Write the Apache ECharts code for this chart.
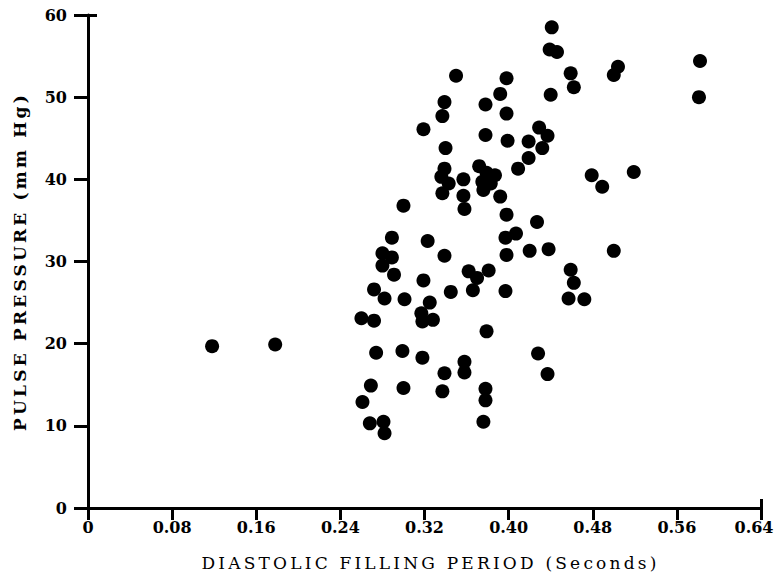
<!DOCTYPE html>
<html>
<head>
<meta charset="utf-8">
<script src="https://cdn.jsdelivr.net/npm/echarts@6/dist/echarts.min.js"></script>
<style>
  html, body { margin: 0; padding: 0; background: #fff; }
  #chart { width: 775px; height: 576px; }
  /* spaced-out lettering for the two axis titles (17px text only) */
  #chart svg text[style*="17px"] { letter-spacing: 3.2px; }
</style>
</head>
<body>
<div id="chart"></div>
<script>
// Diastolic filling period (s) for each observation
const fillingPeriod = [
  0.118, 0.178, 0.260, 0.272, 0.261, 0.268, 0.281, 0.282, 0.269, 0.274,
  0.272, 0.282, 0.280, 0.289, 0.280, 0.289, 0.291, 0.300, 0.301, 0.299,
  0.300, 0.319, 0.323, 0.319, 0.325, 0.317, 0.318, 0.328, 0.318, 0.339,
  0.337, 0.339, 0.345, 0.350, 0.339, 0.337, 0.340, 0.339, 0.336, 0.343,
  0.337, 0.357, 0.357, 0.358, 0.362, 0.366, 0.370, 0.381, 0.358, 0.358,
  0.379, 0.378, 0.378, 0.376, 0.372, 0.379, 0.387, 0.375, 0.383, 0.376,
  0.392, 0.378, 0.378, 0.398, 0.392, 0.398, 0.399, 0.409, 0.419, 0.419,
  0.429, 0.437, 0.432, 0.439, 0.446, 0.441, 0.440, 0.459, 0.462, 0.398,
  0.397, 0.407, 0.398, 0.420, 0.438, 0.427, 0.397, 0.459, 0.462, 0.457,
  0.472, 0.428, 0.437, 0.479, 0.489, 0.500, 0.500, 0.504, 0.519, 0.582,
  0.581
];

// Pulse pressure (mm Hg) for the same observations
const pulsePressure = [
  19.7, 19.9, 23.1, 22.8, 12.9, 10.3, 10.5, 9.1, 14.9, 18.9,
  26.6, 25.5, 31.0, 30.5, 29.5, 32.9, 28.4, 36.8, 25.4, 19.1,
  14.6, 46.1, 32.5, 27.7, 25.0, 23.7, 22.7, 22.9, 18.3, 16.4,
  14.2, 30.7, 26.3, 52.6, 49.4, 47.7, 43.8, 41.3, 40.3, 39.5,
  38.3, 40.0, 38.0, 36.4, 28.8, 26.5, 28.0, 28.9, 17.8, 16.5,
  21.5, 14.5, 13.1, 10.5, 41.6, 40.8, 40.5, 39.7, 39.5, 38.7,
  37.9, 49.1, 45.4, 52.3, 50.4, 48.0, 44.7, 41.3, 42.6, 44.6,
  46.3, 45.3, 43.8, 55.8, 55.5, 58.5, 50.3, 52.9, 51.2, 35.7,
  32.9, 33.4, 30.8, 31.3, 31.5, 34.8, 26.4, 29.0, 27.4, 25.5,
  25.4, 18.8, 16.3, 40.5, 39.1, 31.3, 52.7, 53.7, 40.9, 54.4,
  50.0
];

// Axis ranges and tick steps
const xRange = [0, 0.64];
const xStep = 0.08;
const yRange = [0, 60];
const yStep = 10;

const xTitle = 'DIASTOLIC FILLING PERIOD (Seconds)';
const yTitle = 'PULSE PRESSURE (mm Hg)';

const points = fillingPeriod.map((x, i) => [x, pulsePressure[i]]);

const INK = '#000';
const FONT = 'DejaVu Serif';
const lineStyle = { color: INK, width: 3 };

// x tick text: "0" at the origin, two decimals elsewhere; the last one is
// nudged left through a padded rich box so it stays inside the canvas
function xTickText(v) {
  if (v === 0) return '0';
  const s = v.toFixed(2);
  return Math.abs(v - xRange[1]) < 1e-9 ? '{end|' + s + '}' : s;
}

const chart = echarts.init(document.getElementById('chart'), null, { renderer: 'svg' });

chart.setOption({
  animation: false,
  backgroundColor: '#fff',
  grid: {
    left: 88, right: 14, top: 15, bottom: 68,
    containLabel: false,
    outerBoundsMode: 'none'
  },
  xAxis: [
    {
      type: 'value',
      min: xRange[0], max: xRange[1], interval: xStep,
      position: 'bottom',
      axisLine: { show: true, onZero: false, lineStyle },
      axisTick: { show: true, length: 12, lineStyle },
      splitLine: { show: false },
      axisLabel: {
        color: INK, fontFamily: FONT, fontWeight: 'bold', fontSize: 16, margin: 11,
        formatter: xTickText,
        rich: {
          end: {
            color: INK, fontFamily: FONT, fontWeight: 'bold', fontSize: 16,
            padding: [0, 14, 0, 0]
          }
        }
      },
      name: xTitle,
      nameLocation: 'middle',
      nameGap: 46,
      nameTextStyle: {
        color: INK, fontFamily: FONT, fontSize: 17, fontWeight: 'normal',
        padding: [0, 0, 0, 12]
      }
    },
    {
      // upward end ticks on the horizontal axis
      type: 'value',
      min: xRange[0], max: xRange[1], interval: xRange[1],
      position: 'bottom',
      axisLine: { show: false },
      axisTick: { show: true, inside: true, length: 9, lineStyle },
      axisLabel: { show: false },
      splitLine: { show: false }
    }
  ],
  yAxis: [
    {
      type: 'value',
      min: yRange[0], max: yRange[1], interval: yStep,
      position: 'left',
      axisLine: { show: true, onZero: false, lineStyle },
      axisTick: { show: true, length: 14, lineStyle },
      splitLine: { show: false },
      axisLabel: {
        color: INK, fontFamily: FONT, fontWeight: 'bold', fontSize: 16, margin: 21
      },
      name: yTitle,
      nameLocation: 'middle',
      nameRotate: 90,
      nameGap: 60,
      nameTextStyle: { color: INK, fontFamily: FONT, fontSize: 17, fontWeight: 'bold' }
    },
    {
      // rightward end ticks on the vertical axis
      type: 'value',
      min: yRange[0], max: yRange[1], interval: yRange[1],
      position: 'left',
      axisLine: { show: false },
      axisTick: { show: true, inside: true, length: 9, lineStyle },
      axisLabel: { show: false },
      splitLine: { show: false }
    }
  ],
  series: [
    {
      type: 'scatter',
      xAxisIndex: 0,
      yAxisIndex: 0,
      symbol: 'circle',
      symbolSize: 14,
      itemStyle: { color: INK, opacity: 1 },
      data: points
    }
  ]
});
</script>
</body>
</html>
